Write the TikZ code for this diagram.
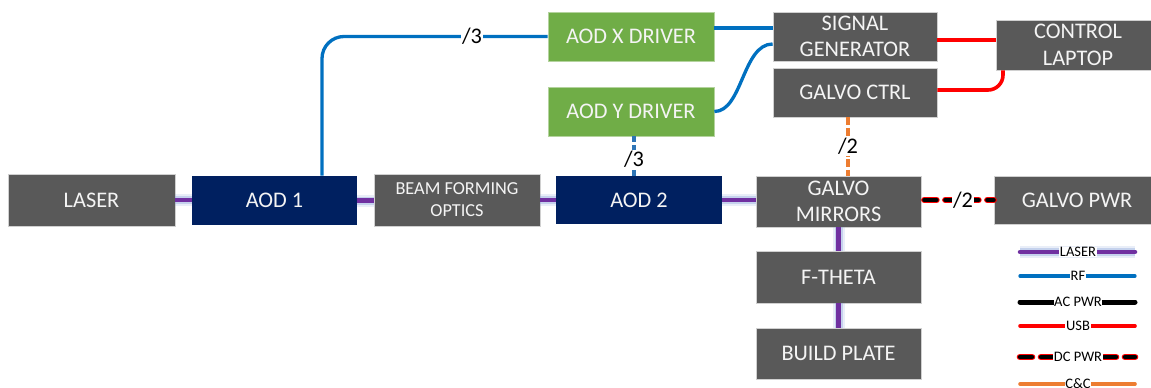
\documentclass[tikz,border=0pt]{standalone}
\usepackage{fontspec}
\setmainfont{Carlito}
\definecolor{boxgray}{HTML}{595959}
\definecolor{boxedge}{HTML}{D0D0D0}
\definecolor{boxtext}{HTML}{F4F4F4}
\definecolor{navy}{HTML}{002060}
\definecolor{drvgreen}{HTML}{70AD47}
\definecolor{drvedge}{HTML}{B4D39E}
\definecolor{beam}{HTML}{7030A0}
\definecolor{beamglow}{HTML}{8FA8DC}
\definecolor{rfblue}{HTML}{0070C0}
\definecolor{rfblue2}{HTML}{2E75B6}
\definecolor{usbred}{HTML}{FF0000}
\definecolor{ccorange}{HTML}{ED7D31}
\newcommand\diagfont{\fontsize{22.3}{26.5}\selectfont}
\newcommand\optfont{\fontsize{18.3}{22}\selectfont}
\newcommand\legfont{\fontsize{14.5}{16}\selectfont}
\tikzset{
  grayblk/.style={draw=boxedge, line width=0.8pt, fill=boxgray, text=boxtext,
    inner sep=0pt, align=center, font=\diagfont},
  navyblk/.style={grayblk, draw=none, fill=navy},
  greenblk/.style={grayblk, draw=drvedge, fill=drvgreen},
  laserline/.style={line width=4.5pt, draw=beam,
    preaction={draw=beamglow, line width=12pt, draw opacity=0.2},
    preaction={draw=beamglow, line width=8pt, draw opacity=0.4}},
  rfline/.style={line width=3.3pt, draw=rfblue},
  rfdashed/.style={line width=3.4pt, draw=rfblue2, dash pattern=on 6pt off 2.5pt},
  usbline/.style={line width=3.6pt, draw=usbred},
  ccline/.style={line width=3.6pt, draw=ccorange, dash pattern=on 8pt off 2.5pt},
  acline/.style={line width=5pt, draw=black, line cap=round},
  dcline/.style={line width=4.4pt, draw=black, line cap=round,
    dash pattern=on 12pt off 9pt,
    preaction={draw=usbred, line width=6.6pt, line cap=round, dash pattern=on 12pt off 9pt}},
  countlab/.style={fill=white, inner sep=1.5pt, font=\diagfont, text=black},
  leglab/.style={fill=white, inner sep=0.6pt, font=\legfont, text=black},
}
\begin{document}
\begin{tikzpicture}[x=1pt, y=-1pt]
\useasboundingbox (0,0) rectangle (1151,388);
\clip (0,0) rectangle (1151,388);

% main optical path
\node[grayblk,  minimum width=167pt, minimum height=52pt] (laser)  at (91.5,200)   {LASER};
\node[navyblk,  minimum width=165pt, minimum height=49pt] (aod1)   at (274.5,200.5) {AOD 1};
\node[grayblk,  minimum width=166pt, minimum height=52pt, font=\optfont] (bfo) at (457,200) {BEAM FORMING\\OPTICS};
\node[navyblk,  minimum width=166pt, minimum height=48pt] (aod2)   at (639,200)    {AOD 2};
\node[grayblk,  minimum width=165pt, minimum height=51pt] (gm)     at (838.5,201.5) {GALVO\\MIRRORS};
\node[grayblk,  minimum width=166pt, minimum height=48pt] (gpwr)   at (1077,200)   {GALVO PWR};
\node[grayblk,  minimum width=165pt, minimum height=52pt] (ftheta) at (838.5,277)  {F-THETA};
\node[grayblk,  minimum width=165pt, minimum height=51pt] (build)  at (838.5,353.5) {BUILD PLATE};

% drivers and control
\node[greenblk, minimum width=166pt, minimum height=49pt] (aodx)   at (631,36.5)   {AOD X DRIVER};
\node[greenblk, minimum width=166pt, minimum height=49pt] (aody)   at (631,111.5)  {AOD Y DRIVER};
\node[grayblk,  minimum width=164pt, minimum height=49pt] (siggen) at (855,36.5)   {SIGNAL\\GENERATOR};
\node[grayblk,  minimum width=164pt, minimum height=49pt] (gctrl)  at (855,92.5)   {GALVO CTRL};
\node[grayblk,  minimum width=164pt, minimum height=50pt] (laptop) at (1078,45)    {CONTROL\\LAPTOP};

% helper columns for off-centre connectors
\coordinate (rfcol)  at (322,0);
\coordinate (aodcol) at (634,0);
\coordinate (cccol)  at (848,0);
\coordinate (usbcol) at (1003,0);

% laser beam
\draw[laserline] (laser.east) -- (laser.east -| aod1.west);
\draw[laserline] (aod1.east) -- (aod1.east -| bfo.west);
\draw[laserline] (bfo.east) -- (bfo.east -| aod2.west);
\draw[laserline] (aod2.east) -- (aod2.east -| gm.west);
\draw[laserline] (gm.south) -- (ftheta.north);
\draw[laserline] (ftheta.south) -- (build.north);

% RF
\draw[rfline, rounded corners=22pt] (aod1.north -| rfcol) |- (aodx.west);
\node[countlab] (rfx) at (472,36.5) {/3};
\draw[rfline] ([yshift=8.5pt]aodx.east) -- ([yshift=8.5pt]aodx.east -| siggen.west);
\draw[rfline] (aody.east) .. controls +(28,0) and +(-30,0) .. ([yshift=-7.5pt]siggen.west);
\draw[rfdashed] (aody.south -| aodcol) -- (aod2.north -| aodcol);
\node[countlab] (rfy) at (634,159.5) {/3};

% command and control
\draw[ccline] (gctrl.south -| cccol) -- (gm.north -| cccol);
\node[countlab] (ccn) at (848,146) {/2};

% USB
\draw[usbline] ([yshift=-3.5pt]siggen.east) -- ([yshift=-3.5pt]siggen.east -| laptop.west);
\draw[usbline, rounded corners=15pt] ([yshift=2.5pt]gctrl.east) -| (laptop.south -| usbcol);

% DC power
\draw[dcline, dash phase=18pt] (gm.east |- gpwr.west) -- (gpwr.west);
\node[countlab] (dcn) at (963,200) {/2};

% legend
\coordinate (lgA1) at (1020,252); \coordinate (lgA2) at (1135,252);
\coordinate (lgB1) at (1020,276); \coordinate (lgB2) at (1135,276);
\coordinate (lgC1) at (1020,302); \coordinate (lgC2) at (1135,302);
\coordinate (lgD1) at (1020,326); \coordinate (lgD2) at (1135,326);
\coordinate (lgE1) at (1020,357); \coordinate (lgE2) at (1135,357);
\coordinate (lgF1) at (1020,384); \coordinate (lgF2) at (1135,384);
\draw[laserline, line cap=round] (lgA1) -- (lgA2);
\node[leglab] (lgA) at (1078,252) {LASER};
\draw[rfline, line cap=round] (lgB1) -- (lgB2);
\node[leglab] (lgB) at (1078,276) {RF};
\draw[acline] (lgC1) -- (lgC2);
\node[leglab] (lgC) at (1078,302) {AC PWR};
\draw[usbline, line cap=round] (lgD1) -- (lgD2);
\node[leglab] (lgD) at (1078,326) {USB};
\draw[dcline] (lgE1) -- (lgE2);
\node[leglab] (lgE) at (1078,357) {DC PWR};
\draw[line width=3.6pt, draw=ccorange, line cap=round] (lgF1) -- (lgF2);
\node[leglab] (lgF) at (1078,384) {C\&C};
\end{tikzpicture}
\end{document}
